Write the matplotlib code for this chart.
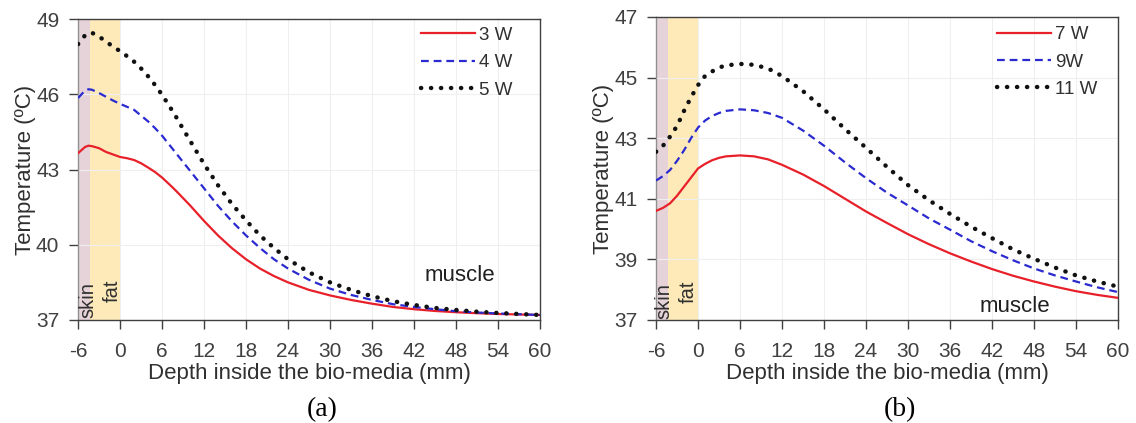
import numpy as np
import matplotlib.pyplot as plt

plt.rcParams['font.family'] = ['Liberation Sans', 'DejaVu Sans']
plt.rcParams['axes.unicode_minus'] = False

# panel (a)
x_a = [-6, -5, -4.5, -4, -3, -2, -1, 0, 1, 2, 3, 4, 5, 6, 7, 8, 9, 10, 12, 14, 16, 18,
       20, 22, 24, 27, 30, 33, 36, 39, 42, 45, 48, 51, 54, 57, 60]
t_3w = [43.65, 43.9, 43.95, 43.93, 43.85, 43.7, 43.6, 43.5, 43.45, 43.38, 43.25, 43.08,
        42.9, 42.68, 42.42, 42.15, 41.86, 41.57, 40.95, 40.37, 39.86, 39.42, 39.05, 38.75,
        38.5, 38.2, 37.98, 37.8, 37.65, 37.52, 37.43, 37.36, 37.31, 37.27, 37.24, 37.22, 37.2]
t_4w = [45.85, 46.15, 46.2, 46.18, 46.05, 45.9, 45.75, 45.62, 45.5, 45.38, 45.15, 44.92,
        44.65, 44.35, 44.0, 43.65, 43.3, 42.95, 42.25, 41.55, 40.93, 40.37, 39.87, 39.42,
        39.05, 38.6, 38.25, 38.0, 37.8, 37.63, 37.52, 37.43, 37.35, 37.3, 37.26, 37.23, 37.2]
t_5w = [48.0, 48.35, 48.45, 48.45, 48.3, 48.1, 47.9, 47.72, 47.52, 47.3, 47.03, 46.72,
        46.37, 45.98, 45.55, 45.1, 44.62, 44.15, 43.22, 42.37, 41.62, 40.97, 40.37, 39.87,
        39.42, 38.9, 38.5, 38.2, 37.95, 37.75, 37.6, 37.48, 37.4, 37.33, 37.28, 37.24, 37.2]

# panel (b)
x_b = [-6, -5, -4, -3, -2, -1, 0, 1, 2, 3, 4, 6, 8, 10, 12, 15, 18, 21, 24, 27, 30,
       33, 36, 39, 42, 45, 48, 51, 54, 57, 60]
t_7w = [40.6, 40.7, 40.85, 41.1, 41.4, 41.7, 42.0, 42.15, 42.27, 42.35, 42.4, 42.43,
        42.4, 42.3, 42.12, 41.8, 41.42, 41.0, 40.58, 40.2, 39.83, 39.5, 39.2, 38.93,
        38.68, 38.46, 38.27, 38.1, 37.95, 37.83, 37.73]
t_9w = [41.6, 41.75, 41.95, 42.25, 42.6, 43.0, 43.35, 43.58, 43.73, 43.83, 43.9, 43.95,
        43.92, 43.83, 43.67, 43.25, 42.75, 42.2, 41.68, 41.2, 40.78, 40.35, 39.98, 39.6,
        39.27, 38.97, 38.7, 38.47, 38.27, 38.08, 37.92]
t_11w = [42.55, 42.75, 43.05, 43.4, 43.9, 44.35, 44.75, 45.05, 45.2, 45.33, 45.4, 45.45,
         45.42, 45.3, 45.05, 44.55, 43.95, 43.3, 42.68, 42.05, 41.45, 40.95, 40.5, 40.08,
         39.7, 39.33, 39.02, 38.73, 38.47, 38.27, 38.1]

xticks = list(range(-6, 61, 6))
skin = (-6, -4.3)
fat = (-4.3, 0)

fig = plt.figure(figsize=(11.36, 4.23), dpi=100)
ax_a = fig.add_axes([0.0687, 0.2435, 0.4067, 0.7115])
ax_b = fig.add_axes([0.5775, 0.2435, 0.4067, 0.7165])


def style_axes(ax, ylim, yticks):
    ax.axvspan(*skin, color='#e6d3d9', lw=0, zorder=0)
    ax.axvspan(*fat, color='#fdeab8', lw=0, zorder=0)
    ax.set_xlim(-6, 60)
    ax.set_ylim(*ylim)
    ax.set_xticks(xticks)
    ax.set_yticks(yticks)
    ax.grid(True, color='#efefef', lw=0.8, zorder=0.5)
    ax.set_axisbelow(True)
    for s in ax.spines.values():
        s.set_color('#404040')
        s.set_linewidth(1.0)
    ax.spines['left'].set_color('#909090')
    ax.tick_params(labelsize=15, colors='#404040', length=6.5, width=1)
    ax.tick_params(axis='x', pad=9)
    ax.tick_params(axis='y', pad=7)
    ax.set_xlabel('Depth inside the bio-media (mm)', fontsize=16, color='#303030', labelpad=2)
    ax.set_ylabel('Temperature (ºC)', fontsize=16, color='#303030', labelpad=0)


def draw_lines(ax, x, ts, labels, anchor):
    ax.plot(x, ts[0], color='#e8202a', lw=1.6, label=labels[0], zorder=3)
    ax.plot(x, ts[1], color='#2a2ad0', lw=1.6, ls=(0, (3.5, 2.2)), label=labels[1], zorder=3)
    ax.plot(x, ts[2], color='#111111', lw=3.2, ls=(0, (0.05, 2.2)),
            dash_capstyle='round', label=labels[2], zorder=3)
    ax.legend(loc='upper right', bbox_to_anchor=anchor, frameon=False, fontsize=13.5,
              handlelength=2.9, handletextpad=0.2, labelspacing=0.55, borderaxespad=0,
              borderpad=0, labelcolor='#303030')


style_axes(ax_a, (37, 49), [37, 40, 43, 46, 49])
draw_lines(ax_a, x_a, [t_3w, t_4w, t_5w], ['3 W', '4 W', '5 W'], (0.94, 0.975))
ax_a.text(-4.6, 37.08, 'skin', rotation=90, fontsize=14.5, ha='center', va='bottom', color='#303030')
ax_a.text(-1.1, 37.7, 'fat', rotation=90, fontsize=14.5, ha='center', va='bottom', color='#303030')
ax_a.text(48.6, 38.79, 'muscle', fontsize=16, ha='center', va='center', color='#202020')

style_axes(ax_b, (37, 47), [37, 39, 41, 43, 45, 47])
draw_lines(ax_b, x_b, [t_7w, t_9w, t_11w], ['7 W', '9W', '11 W'], (0.955, 0.97))
ax_b.text(-4.85, 37.03, 'skin', rotation=90, fontsize=14.5, ha='center', va='bottom', color='#303030')
ax_b.text(-1.4, 37.56, 'fat', rotation=90, fontsize=14.5, ha='center', va='bottom', color='#303030')
ax_b.text(45.3, 37.43, 'muscle', fontsize=16, ha='center', va='center', color='#202020')

fig.text(0.284, 0.031, '(a)', fontsize=20, family=['Liberation Serif', 'DejaVu Serif'],
         ha='center', va='center')
fig.text(0.792, 0.031, '(b)', fontsize=20, family=['Liberation Serif', 'DejaVu Serif'],
         ha='center', va='center')

fig.savefig('out.png', dpi=100)
